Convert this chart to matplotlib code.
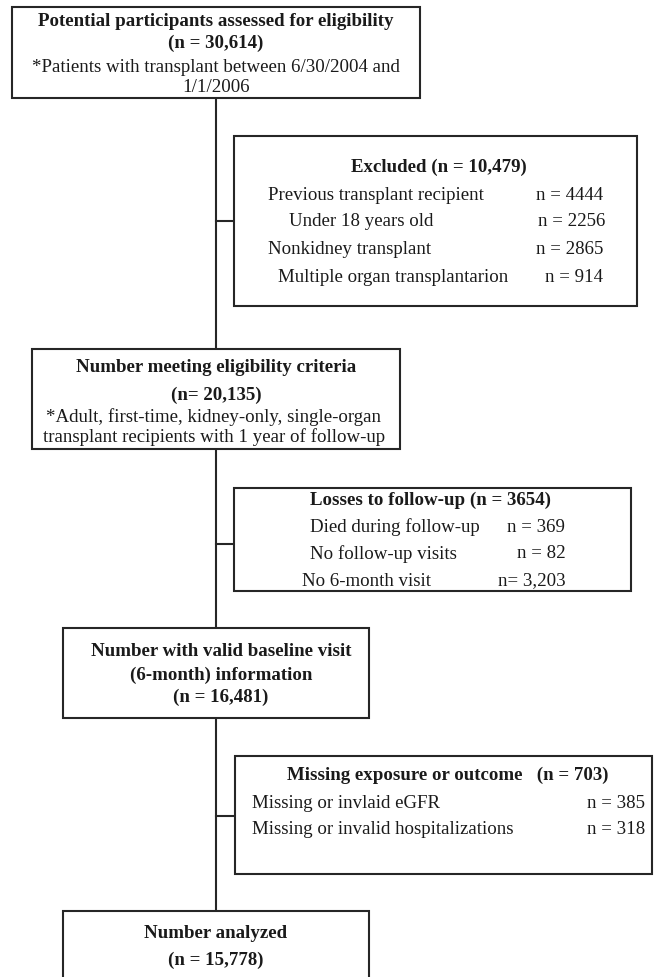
"""
Participant flow diagram (eligibility -> exclusions -> analyzed cohort).
"""
import matplotlib.pyplot as plt
from matplotlib.patches import Rectangle

plt.rcParams['font.family'] = ['Liberation Serif', 'DejaVu Serif']

# ---- content -------------------------------------------------------------
screen_title = "Potential participants assessed for eligibility"
screen_n = "(n = 30,614)"
screen_note = ["*Patients with transplant between 6/30/2004 and", "1/1/2006"]

excluded_title = "Excluded (n = 10,479)"
excluded_reasons = ["Previous transplant recipient", "Under 18 years old",
                    "Nonkidney transplant", "Multiple organ transplantarion"]
excluded_counts = ["n = 4444", "n = 2256", "n = 2865", "n = 914"]

eligible_title = "Number meeting eligibility criteria"
eligible_n = "(n= 20,135)"
eligible_note = ["*Adult, first-time, kidney-only, single-organ",
                 "transplant recipients with 1 year of follow-up"]

loss_title = "Losses to follow-up (n = 3654)"
loss_reasons = ["Died during follow-up", "No follow-up visits", "No 6-month visit"]
loss_counts = ["n = 369", "n = 82", "n= 3,203"]

baseline_lines = ["Number with valid baseline visit", "(6-month) information",
                  "(n = 16,481)"]

missing_title = "Missing exposure or outcome   (n = 703)"
missing_reasons = ["Missing or invlaid eGFR", "Missing or invalid hospitalizations"]
missing_counts = ["n = 385", "n = 318"]

analyzed_lines = ["Number analyzed", "(n = 15,778)"]

# ---- drawing -------------------------------------------------------------
fig = plt.figure(figsize=(6.55, 9.78), dpi=100)
ax = fig.add_axes([0, 0, 1, 1])
ax.set_xlim(0, 655)
ax.set_ylim(978, 0)
ax.axis('off')

EDGE = '#262626'
FS = 13.6


def box(x0, y0, x1, y1):
    ax.add_patch(Rectangle((x0, y0), x1 - x0, y1 - y0, facecolor='white',
                           edgecolor=EDGE, linewidth=1.5, zorder=2))


def txt(x, y, s, ha='center', bold=False, size=FS):
    ax.text(x, y, s, ha=ha, va='center', fontsize=size, color='#1a1a1a',
            fontweight='bold' if bold else 'normal', zorder=3)


# spine + side connectors
spine_x = 216
ax.plot([spine_x, spine_x], [99, 1000], color=EDGE, lw=1.5, zorder=1)
for yc, xe in [(222, 234), (545, 234), (817, 235)]:
    ax.plot([spine_x, xe], [yc, yc], color=EDGE, lw=1.5, zorder=1)

# box 1
box(12, 8, 420, 99)
txt(216, 22, screen_title, bold=True)
txt(216, 43, screen_n, bold=True)
for line, y in zip(screen_note, [68, 87]):
    txt(216, y, line)

# exclusions
box(234, 137, 637, 307)
txt(439, 167, excluded_title, bold=True)
for name, cnt, y, lx, cx in zip(excluded_reasons, excluded_counts,
                                [195, 222, 249, 277], [268, 289, 268, 278],
                                [536, 538, 536, 545]):
    txt(lx, y, name, ha='left')
    txt(cx, y, cnt, ha='left')

# eligible
box(32, 350, 400, 450)
txt(216, 367, eligible_title, bold=True)
txt(216, 395, eligible_n, bold=True)
for line, y in zip(eligible_note, [417, 437]):
    txt(214, y, line)

# losses
box(234, 489, 631, 592)
txt(310, 500, loss_title, ha='left', bold=True)
for name, cnt, y, lx, cx in zip(loss_reasons, loss_counts, [527, 554, 581],
                                [310, 310, 302], [507, 517, 498]):
    txt(lx, y, name, ha='left')
    txt(cx, y, cnt, ha='left')

# baseline
box(63, 629, 369, 719)
for line, y in zip(baseline_lines, [651, 675, 697]):
    txt(221, y, line, bold=True)

# missing
box(235, 757, 652, 875)
txt(448, 775, missing_title, bold=True)
for name, cnt, y in zip(missing_reasons, missing_counts, [803, 830]):
    txt(252, y, name, ha='left')
    txt(645, y, cnt, ha='right')

# analyzed
box(63, 912, 369, 1000)
txt(216, 933, analyzed_lines[0], bold=True)
txt(216, 960, analyzed_lines[1], bold=True)

fig.savefig('out.png', dpi=100)
plt.close(fig)
